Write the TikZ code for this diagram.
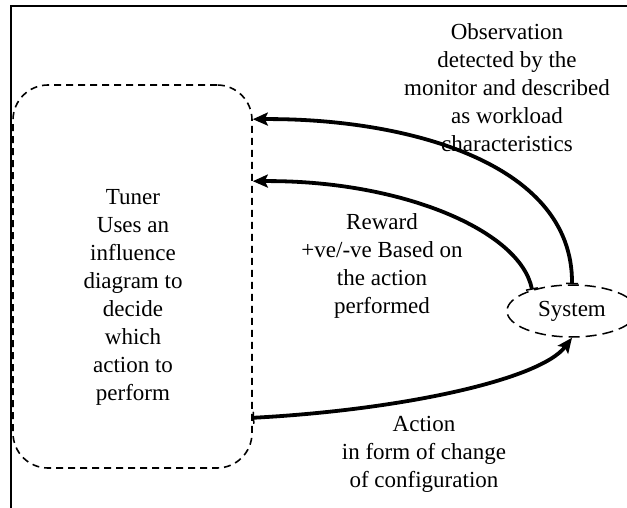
\documentclass[tikz,border=0pt]{standalone}
\usepackage{fontspec}
\setmainfont{Liberation Serif}
\usetikzlibrary{arrows.meta,shapes.geometric,calc}

\tikzset{
  txt/.style={align=center, inner sep=0pt, font=\fontsize{23}{28}\selectfont},
  tunerbox/.style={draw, line width=1.6pt, dash pattern=on 7pt off 5pt,
    rounded corners=35pt, minimum width=239pt, minimum height=383pt, inner sep=0pt},
  sysnode/.style={draw, ellipse, line width=1.5pt, dash pattern=on 11pt off 6pt,
    minimum width=130pt, minimum height=52pt, inner sep=0pt},
  flow/.style={line width=3.8pt,
    {Bar[width=12pt,line width=1.5pt]}-{Stealth[length=15pt,width=13pt,inset=3pt]}},
}

\begin{document}
\begin{tikzpicture}[x=1pt,y=-1pt]
  \useasboundingbox (0,0) rectangle (627,508);
  \clip (0,0) rectangle (627,508);

  % outer frame (top and left sides)
  \draw[line width=2.4pt] (11,508) -- (11,6) -- (627,6);

  % tuner
  \node[tunerbox] (tuner) at (132.5,276.5) {};
  \node[txt] (tunerlbl) at (133,297)
    {Tuner\\Uses an\\influence\\diagram to\\decide\\which\\action to\\perform};

  % system
  \node[sysnode, font=\fontsize{23}{28}\selectfont] (sys) at (572,311) {System};

  % connectors
  \coordinate (obsin) at ([yshift=-35pt]tuner.north east);
  \coordinate (rewin) at ([yshift=-97pt]tuner.north east);
  \coordinate (actout) at ([yshift=51pt]tuner.south east);

  \draw[flow] (sys.north) .. controls (573,160) and (400,118) .. (obsin);
  \draw[flow] (sys.152) .. controls (520,230) and (400,180) .. (rewin);
  \draw[flow] (actout) .. controls (400,410) and (540,380) .. (sys.south);

  % labels
  \node[txt] (obslbl) at (507,88)
    {Observation\\detected by the\\monitor and described\\as workload\\characteristics};
  \node[txt] (rewlbl) at (382,266)
    {Reward\\+ve/-ve Based on\\the action\\performed};
  \node[txt] (actlbl) at (424,454)
    {Action\\in form of change\\of configuration};
\end{tikzpicture}
\end{document}
